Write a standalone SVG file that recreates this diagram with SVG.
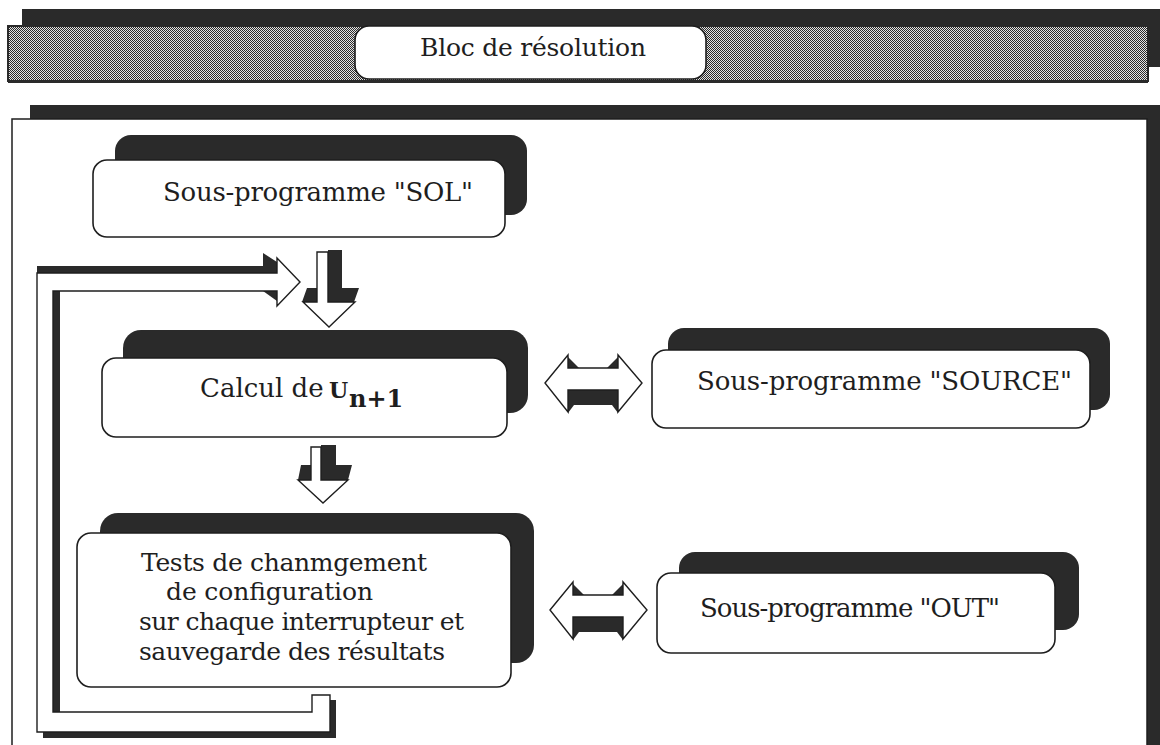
<svg xmlns="http://www.w3.org/2000/svg" width="1160" height="745" viewBox="0 0 1160 745">
  <defs>
    <!-- 50% dither used for the title strip -->
    <pattern id="dither" width="2" height="2" patternUnits="userSpaceOnUse">
      <rect width="2" height="2" fill="#e4e4e4"/>
      <rect width="1" height="1" fill="#2a2a2a"/>
      <rect x="1" y="1" width="1" height="1" fill="#2a2a2a"/>
    </pattern>
    <!-- hollow double-headed arrow with its dark shading -->
    <g id="dbl-arrow">
      <polygon class="ink" points="568,390 618,390 618,413 612,405 574,405 568,413"/>
      <polygon class="ink" points="568,357 579,368 568,368"/>
      <polygon class="ink" points="618,357 607,368 618,368"/>
      <polygon class="arrow" points="545,383 568,355 568,368 618,368 618,355 642,383 618,412 618,390 568,390 568,412"/>
    </g>
  </defs>
  <style>
    .ink{fill:#2a2a2a}
    .box{fill:#fff;stroke:#1e1e1e;stroke-width:1.6}
    .arrow{fill:#fff;stroke:#1e1e1e;stroke-width:1.4;stroke-linejoin:miter}
    .lbl{font-family:"DejaVu Serif","Liberation Serif",serif;font-size:26px;fill:#1e1e1e}
    .small{font-size:25px}
    .bold{font-weight:bold}
  </style>

  <rect width="1160" height="745" fill="#fff"/>

  <!-- title strip -->
  <g id="title-bar">
    <rect class="ink" x="22" y="9" width="1140" height="58"/>
    <rect x="8" y="26" width="1140" height="55" fill="url(#dither)" stroke="#2a2a2a" stroke-width="2"/>
    <rect class="ink" x="8" y="80" width="1140" height="3"/>
    <rect class="box" x="355" y="26" width="351" height="53" rx="14"/>
    <text class="lbl small" x="420" y="56" textLength="226" lengthAdjust="spacing">Bloc de résolution</text>
  </g>

  <!-- main frame -->
  <g id="frame">
    <rect class="ink" x="30" y="105" width="1130" height="640"/>
    <rect x="12" y="119" width="1135" height="640" fill="#fff" stroke="#1e1e1e" stroke-width="1.5"/>
  </g>

  <g id="node-sol">
    <rect class="ink" x="115" y="135" width="412" height="80" rx="16"/>
    <rect class="box" x="93" y="160" width="412" height="77" rx="14"/>
    <text class="lbl" x="163" y="201" textLength="310" lengthAdjust="spacing">Sous-programme "SOL"</text>
  </g>

  <g id="node-calcul">
    <rect class="ink" x="123" y="330" width="405" height="83" rx="18"/>
    <rect class="box" x="102" y="358" width="405" height="79" rx="14"/>
    <text class="lbl" x="200" y="397">Calcul de</text>
    <text class="lbl bold" x="329" y="398" style="font-size:22px">U</text>
    <text class="lbl bold" x="349" y="407" style="font-size:24px">n+1</text>
  </g>

  <g id="node-source">
    <rect class="ink" x="668" y="328" width="442" height="82" rx="16"/>
    <rect class="box" x="652" y="350" width="438" height="78" rx="14"/>
    <text class="lbl" x="697" y="390" textLength="375" lengthAdjust="spacing">Sous-programme "SOURCE"</text>
  </g>

  <g id="node-tests">
    <rect class="ink" x="100" y="513" width="434" height="150" rx="18"/>
    <rect class="box" x="77" y="533" width="434" height="154" rx="14"/>
    <text class="lbl small" x="141" y="571" textLength="286" lengthAdjust="spacing">Tests de chanmgement</text>
    <text class="lbl small" x="166" y="600" textLength="207" lengthAdjust="spacing">de configuration</text>
    <text class="lbl small" x="139" y="630" textLength="325" lengthAdjust="spacing">sur chaque interrupteur et</text>
    <text class="lbl small" x="139" y="660" textLength="306" lengthAdjust="spacing">sauvegarde des résultats</text>
  </g>

  <g id="node-out">
    <rect class="ink" x="679" y="552" width="400" height="78" rx="16"/>
    <rect class="box" x="657" y="573" width="398" height="80" rx="14"/>
    <text class="lbl" x="700" y="617" textLength="300" lengthAdjust="spacing">Sous-programme "OUT"</text>
  </g>

  <g id="connectors">
    <!-- return loop from the tests block back to the computation -->
    <g id="loop">
      <rect class="ink" x="37" y="266" width="240" height="7"/>
      <rect class="ink" x="53" y="291" width="7" height="421"/>
      <rect class="ink" x="43" y="732" width="293" height="6"/>
      <rect class="ink" x="330" y="700" width="6" height="38"/>
      <polygon class="ink" points="263,253 277,262 277,273 263,273"/>
      <polygon class="ink" points="263,291 277,291 277,301"/>
      <polygon class="arrow" points="300,282 277,306 277,291 53,291 53,712 312,712 312,695 330,695 330,732 37,732 37,273 277,273 277,258"/>
    </g>
    <!-- SOL to computation -->
    <g id="down-1">
      <polygon class="ink" points="307,288 328,288 328,250 342,250 342,288 359,288 354,302 302,302"/>
      <polygon class="arrow" points="317,252 328,252 328,302 355,302 329,327 303,302 317,302"/>
    </g>
    <!-- computation to tests -->
    <g id="down-2">
      <polygon class="ink" points="301,465 321,465 321,445 336,445 336,465 352,465 348,480 298,480"/>
      <polygon class="arrow" points="311,447 321,447 321,480 348,480 323,503 298,480 311,480"/>
    </g>
    <!-- exchanges with the sub-programs -->
    <use id="link-source" href="#dbl-arrow"/>
    <use id="link-out" href="#dbl-arrow" transform="translate(5,227)"/>
  </g>
</svg>
